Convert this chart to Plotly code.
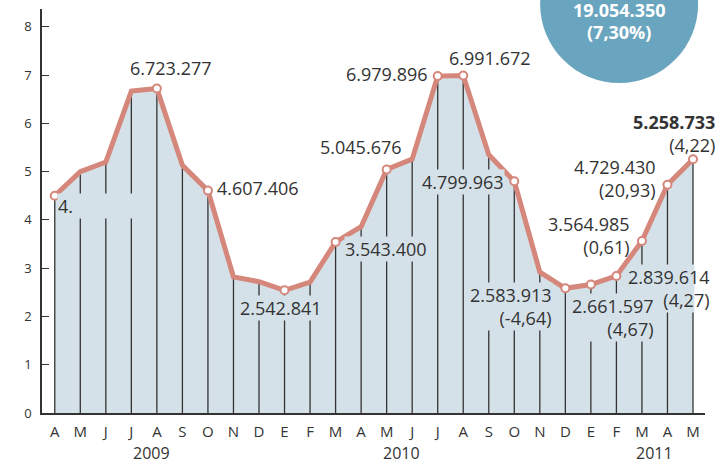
import plotly.graph_objects as go

# ---- data ----
months = ["A", "M", "J", "J", "A", "S", "O", "N", "D", "E", "F", "M", "A",
          "M", "J", "J", "A", "S", "O", "N", "D", "E", "F", "M", "A", "M"]
values = [4.50, 5.00, 5.20, 6.67, 6.723277, 5.13, 4.607406, 2.82, 2.72,
          2.542841, 2.71, 3.543400, 3.86, 5.045676, 5.26, 6.979896, 6.991672,
          5.35, 4.799963, 2.92, 2.583913, 2.661597, 2.839614, 3.564985,
          4.729430, 5.258733]
marked = [0, 4, 6, 9, 11, 13, 15, 16, 18, 20, 21, 22, 23, 24, 25]
years = ["2009", "2010", "2011"]
year_pos = [3.8, 13.6, 23.5]
y_ticks = [0, 1, 2, 3, 4, 5, 6, 7, 8]
total_text = "19.054.350"
total_pct = "(7,30%)"

# labels: (index, text) -- order matters for overlapping boxes
labels = [
    (0, "4."),
    (4, "6.723.277"),
    (6, "4.607.406"),
    (9, "2.542.841"),
    (11, "3.543.400"),
    (13, "5.045.676"),
    (15, "6.979.896"),
    (16, "6.991.672"),
    (18, "4.799.963"),
    (20, "2.583.913<br>(-4,64)"),
    (22, "2.839.614<br>(4,27)"),
    (21, "2.661.597<br>(4,67)"),
    (23, "3.564.985<br>(0,61)"),
    (24, "4.729.430<br>(20,93)"),
    (25, "<b>5.258.733</b><br>(4,22)"),
]

# ---- style ----
FILL = "#d5e1e9"
LINE = "#d4877a"
DARK = "#333333"
CIRCLE = "#6aa5bf"
FONT = "Open Sans"

x = list(range(len(values)))
last = x[-1]

fig = go.Figure()
fig.add_trace(go.Scatter(x=x, y=values, mode="lines", fill="tozeroy",
                         fillcolor=FILL, line=dict(width=0), hoverinfo="skip"))
vx, vy = [], []
for i, v in zip(x, values):
    vx += [i, i, None]
    vy += [0, v, None]
fig.add_trace(go.Scatter(x=vx, y=vy, mode="lines",
                         line=dict(color=DARK, width=1.3), hoverinfo="skip"))
fig.add_trace(go.Scatter(x=x, y=values, mode="lines",
                         line=dict(color=LINE, width=5), hoverinfo="skip"))
fig.add_trace(go.Scatter(x=marked, y=[values[i] for i in marked], mode="markers",
                         marker=dict(color="white", size=8,
                                     line=dict(color=LINE, width=2)),
                         hoverinfo="skip"))

# label placement: xanchor, xshift, yshift, align, bg
place = {
    0: ("left", 2, -10, "left", True),
    4: ("center", 14, 20, "center", False),
    6: ("left", 8, 3, "left", False),
    9: ("center", -4, -18, "center", True),
    11: ("left", 8, -7, "left", True),
    13: ("center", -26, 22, "center", False),
    15: ("right", -9, 2, "right", False),
    16: ("center", 27, 18, "center", False),
    18: ("right", -9, -1, "right", True),
    20: ("right", -12, -18, "right", True),
    21: ("right", 64, -33, "right", True),
    22: ("right", 95, -13, "right", True),
    23: ("right", -11, 5, "right", False),
    24: ("right", -10, 6, "right", False),
    25: ("right", 23, 26, "right", False),
}

annotations = []


def label_ann(i, txt, bg, color):
    xa, xs, ys, al, _ = place[i]
    a = dict(x=i, y=values[i], xref="x", yref="y", text=txt, showarrow=False,
             xanchor=xa, yanchor="middle", xshift=xs, yshift=ys, align=al,
             font=dict(family=FONT, size=18, color=color), borderpad=0)
    if bg:
        a["bgcolor"] = FILL
    if i == 0:
        a["width"] = 82
    return a


for i, txt in labels:
    bg = place[i][4]
    if i == 22:
        # mask box (invisible text), then white patch beyond the area, then text
        annotations.append(label_ann(i, txt, True, FILL))
        annotations.append(dict(x=last, y=values[i], xref="x", yref="y", text="",
                                showarrow=False, xanchor="left", yanchor="middle",
                                xshift=1, yshift=place[i][2], width=30, height=50,
                                bgcolor="white", borderpad=0))
        annotations.append(label_ann(i, txt, False, DARK))
    else:
        annotations.append(label_ann(i, txt, bg, DARK))

for yr, p in zip(years, year_pos):
    annotations.append(dict(x=p, y=0, xref="x", yref="paper", text=yr,
                            showarrow=False, xanchor="center", yanchor="middle",
                            yshift=-40,
                            font=dict(family=FONT, size=16, color=DARK)))

annotations.append(dict(x=0.8705, y=1.0124, xref="paper", yref="paper",
                        text="<b>" + total_text + "</b>", showarrow=False,
                        xanchor="center", yanchor="middle", yshift=-6,
                        font=dict(family=FONT, size=18, color="white")))
annotations.append(dict(x=0.8705, y=1.0124, xref="paper", yref="paper",
                        text="<b>" + total_pct + "</b>", showarrow=False,
                        xanchor="center", yanchor="middle", yshift=-28,
                        font=dict(family=FONT, size=18, color="white")))

fig.update_layout(
    width=718, height=466,
    margin=dict(l=42, r=13, t=9, b=53),
    paper_bgcolor="white", plot_bgcolor="white",
    showlegend=False,
    annotations=annotations,
    shapes=[dict(type="circle", xref="paper", yref="paper",
                 xsizemode="pixel", ysizemode="pixel",
                 xanchor=0.8705, yanchor=1.0124,
                 x0=-79, x1=79, y0=-79, y1=79,
                 fillcolor=CIRCLE, line=dict(width=0), layer="below")],
)
fig.update_xaxes(range=[-0.5, 25.47], tickvals=x, ticktext=months,
                 showline=True, linecolor=DARK, linewidth=1.5, ticks="",
                 showgrid=False, zeroline=False, ticklabelstandoff=4,
                 tickfont=dict(family=FONT, size=15, color=DARK))
fig.update_yaxes(range=[0, 8.37], tickvals=y_ticks, showline=True,
                 linecolor=DARK, linewidth=1.5, ticks="inside", ticklen=7,
                 tickcolor=DARK, tickwidth=1.3, showgrid=False, zeroline=False,
                 ticklabelstandoff=6,
                 tickfont=dict(family=FONT, size=13, color=DARK))

fig.write_html("out.html", config={"displayModeBar": False},
               post_script="document.body.style.margin='0px';"
                           "document.body.style.overflow='hidden';")
